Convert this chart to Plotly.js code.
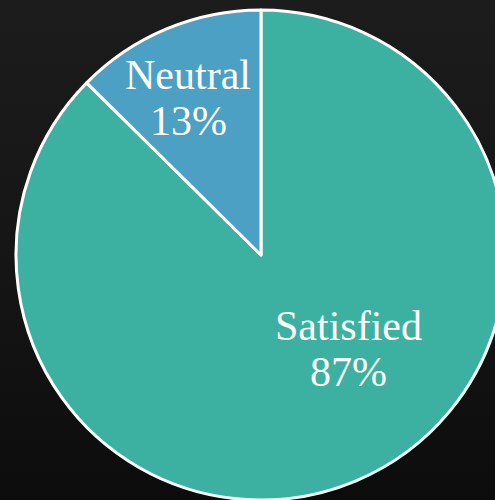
<!DOCTYPE html>
<html>
<head>
<meta charset="utf-8">
<script src="https://cdn.plot.ly/plotly-3.0.1.min.js"></script>
<style>
html,body{margin:0;padding:0;width:495px;height:500px;overflow:hidden;
background:linear-gradient(180deg,#1c1c1c 0%,#141414 60%,#0c0c0c 100%);}
#chart{width:510px;height:500px;}
</style>
</head>
<body>
<div id="chart"></div>
<script>
var labels = ["Satisfied", "Neutral"];
var values = [87.4, 12.6];
var colors = ["#3CB1A2", "#4BA0C4"];

// label placement styles (fraction of radius, angular nudge in degrees)
var labelRadius = [0.524, 0.706];
var labelNudge = [-20, -2.2];

var total = values.reduce(function(a, b){ return a + b; }, 0);
var annotations = [];
var cum = 0;
var font = {family: "Liberation Serif, DejaVu Serif, serif", size: 42, color: "#ffffff"};
for (var i = 0; i < values.length; i++) {
  var mid = (cum + values[i] / 2) / total * 360 + labelNudge[i];
  cum += values[i];
  var rad = mid * Math.PI / 180;
  var x = 0.5 + labelRadius[i] * 0.5 * Math.sin(rad);
  var y = 0.5 + labelRadius[i] * 0.5 * Math.cos(rad);
  var pct = Math.round(values[i] / total * 100) + "%";
  annotations.push({xref: "paper", yref: "paper", x: x, y: y, text: labels[i],
    showarrow: false, font: font, yshift: 23, xanchor: "center", yanchor: "middle"});
  annotations.push({xref: "paper", yref: "paper", x: x, y: y, text: pct,
    showarrow: false, font: font, yshift: -23, xanchor: "center", yanchor: "middle"});
}

Plotly.newPlot("chart", [{
  type: "pie",
  labels: labels,
  values: values,
  sort: false,
  direction: "clockwise",
  rotation: 0,
  marker: {colors: colors, line: {color: "#ffffff", width: 3}},
  textinfo: "none",
  hoverinfo: "none"
}], {
  width: 510,
  height: 500,
  margin: {l: 16, r: 4, t: 10, b: 0},
  paper_bgcolor: "rgba(0,0,0,0)",
  plot_bgcolor: "rgba(0,0,0,0)",
  showlegend: false,
  annotations: annotations
}, {staticPlot: true});
</script>
</body>
</html>
